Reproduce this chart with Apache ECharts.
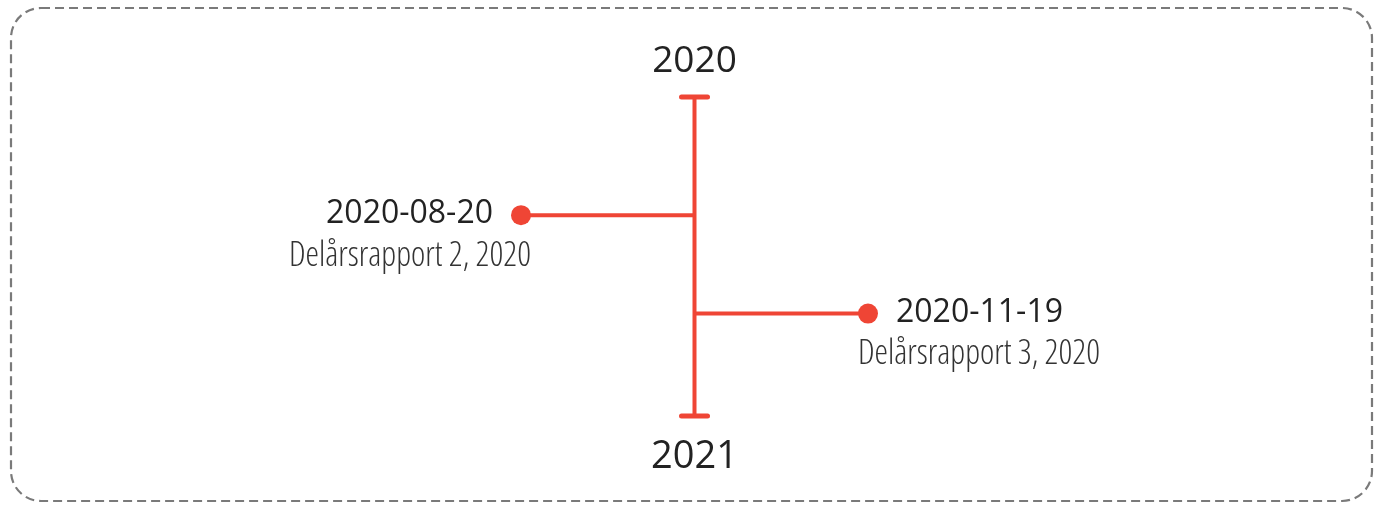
<!DOCTYPE html>
<html>
<head>
<meta charset="utf-8">
<script src="https://cdn.jsdelivr.net/npm/echarts@6/dist/echarts.min.js"></script>
<style>
html,body{margin:0;padding:0;background:#fff;}
#chart{width:1383px;height:507px;}
</style>
</head>
<body>
<div id="chart"></div>
<script>
// ---- data ----
const years = ['2020', '2021'];
const eventDates = ['2020-08-20', '2020-11-19'];
const eventTitles = ['Delårsrapport 2, 2020', 'Delårsrapport 3, 2020'];
const eventSides = [-1, 1];   // -1 = left of the spine, 1 = right
const eventRows = [1, 2];     // order along the spine

const RED = '#ef4535';
const TEXT = '#222222';
const DESC_FONT = '300 condensed 34px "Open Sans", "DejaVu Sans", sans-serif';

const chart = echarts.init(document.getElementById('chart'));

const eventData = eventDates.map((d, i) => [eventSides[i], eventRows[i], d, eventTitles[i]]);

chart.setOption({
  animation: false,
  grid: { left: 521, right: 515, top: 97, bottom: 91 },
  xAxis: { type: 'value', min: -1, max: 1, show: false },
  yAxis: { type: 'value', min: -0.2, max: 3.04, inverse: true, show: false },
  graphic: [{
    type: 'rect',
    shape: { x: 11, y: 8, width: 1361, height: 493, r: 30 },
    style: { fill: 'none', stroke: '#7a7a7a', lineWidth: 2.2, lineDash: [9, 5] },
    silent: true
  }],
  series: [
    {
      type: 'custom',
      data: [[0, 0]],
      renderItem: function (params, api) {
        const cs = params.coordSys;
        const cx = api.coord([0, 0])[0];
        const top = cs.y, bottom = cs.y + cs.height;
        return {
          type: 'group',
          children: [
            { type: 'line', shape: { x1: cx, y1: top, x2: cx, y2: bottom }, style: { stroke: RED, lineWidth: 4 } },
            { type: 'line', shape: { x1: cx - 13, y1: top, x2: cx + 13, y2: top }, style: { stroke: RED, lineWidth: 5, lineCap: 'round' } },
            { type: 'line', shape: { x1: cx - 13, y1: bottom, x2: cx + 13, y2: bottom }, style: { stroke: RED, lineWidth: 5, lineCap: 'round' } },
            { type: 'text', style: { text: years[0], x: cx, y: top - 36, align: 'center', verticalAlign: 'middle', fontSize: 37, fontFamily: '"Open Sans",sans-serif', fill: TEXT } },
            { type: 'text', style: { text: years[1], x: cx, y: bottom + 41, align: 'center', verticalAlign: 'middle', fontSize: 38, fontFamily: '"Open Sans",sans-serif', fill: TEXT } }
          ]
        };
      }
    },
    {
      type: 'custom',
      data: eventData,
      renderItem: function (params, api) {
        const side = api.value(0), row = api.value(1);
        const item = eventData[params.dataIndex];
        const p0 = api.coord([0, row]);
        const p1 = api.coord([side, row]);
        const left = side < 0;
        return {
          type: 'group',
          children: [
            { type: 'line', shape: { x1: p0[0], y1: p0[1], x2: p1[0], y2: p1[1] }, style: { stroke: RED, lineWidth: 4 } },
            { type: 'circle', shape: { cx: p1[0], cy: p1[1], r: 10 }, style: { fill: RED } },
            { type: 'text', style: {
                text: item[2], x: p1[0] + (left ? -28 : 28), y: p1[1] - 1,
                align: left ? 'right' : 'left', verticalAlign: 'middle',
                fontSize: 32, fontFamily: '"Open Sans",sans-serif', fill: TEXT } },
            { type: 'text', style: {
                text: item[3], x: p1[0] + (left ? 10 : -10), y: p1[1] + 41,
                align: left ? 'right' : 'left', verticalAlign: 'middle',
                font: DESC_FONT, fill: '#333333' } }
          ]
        };
      }
    }
  ]
});
</script>
</body>
</html>
